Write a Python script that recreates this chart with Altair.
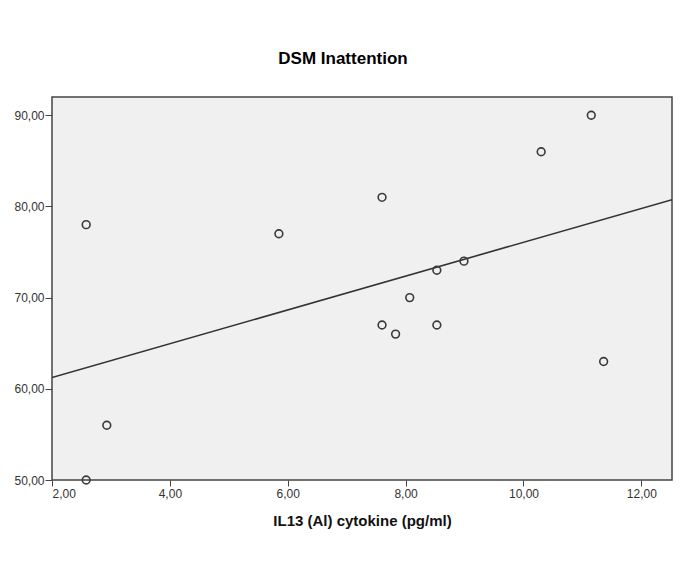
import altair as alt
import pandas as pd

il13 = [2.58, 5.85, 2.93, 2.58, 7.60, 11.15, 10.30, 8.99, 8.53, 8.07, 7.60, 7.83, 8.53, 11.36]
dsm = [78, 77, 56, 50, 81, 90, 86, 74, 73, 70, 67, 66, 67, 63]

df = pd.DataFrame({"x": il13, "y": dsm})

fmt = "replace(format(datum.value, '.2f'), '.', ',')"

xs = alt.Scale(domain=[2, 12.52], nice=False, zero=False)
ys = alt.Scale(domain=[50, 92], nice=False, zero=False)

xax = alt.Axis(values=[2, 4, 6, 8, 10, 12], labelExpr=fmt, grid=False,
               title="IL13 (Al) cytokine (pg/ml)", titleFontSize=15, titleFontWeight="bold",
               titlePadding=14, labelFontSize=12, tickSize=6, labelPadding=2,
               domain=False)
yax = alt.Axis(values=[50, 60, 70, 80, 90], labelExpr=fmt, grid=False, title=None,
               labelFontSize=12, tickSize=7, labelPadding=1, domain=False)

points = alt.Chart(df).mark_point(shape="circle", filled=False, size=60,
                                  color="#3a3a3a", strokeWidth=1.6, opacity=1).encode(
    x=alt.X("x:Q", scale=xs, axis=xax),
    y=alt.Y("y:Q", scale=ys, axis=yax),
)

fit = alt.Chart(df).transform_regression("x", "y", extent=[2, 12.52]).mark_line(
    color="#333333", strokeWidth=1.6, clip=True).encode(
    x=alt.X("x:Q", scale=xs),
    y=alt.Y("y:Q", scale=ys),
)

chart = alt.layer(fit, points).properties(
    width=620, height=383,
    padding={"left": 44, "top": 89, "right": 5, "bottom": 60},
    autosize=alt.AutoSizeParams(type="none"),
    title=alt.TitleParams("DSM Inattention", fontSize=17, fontWeight="bold",
                          anchor="middle", dx=-19, offset=29, color="#000000"),
).configure(
    font="Liberation Sans",
).configure_view(
    fill="#f0f0f0", stroke="#444444", strokeWidth=1.5,
).configure_axis(
    labelColor="#333333", tickColor="#444444", titleColor="#111111",
    labelFont="Liberation Sans", titleFont="Liberation Sans",
)

chart.save("out.html", embed_options={"renderer": "svg", "actions": False})
